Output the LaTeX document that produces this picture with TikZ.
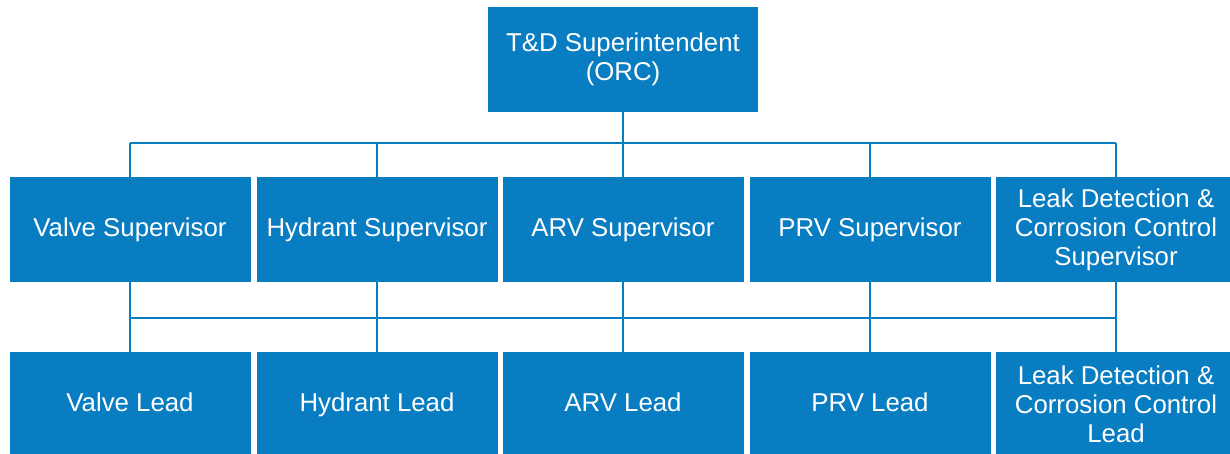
\documentclass[tikz,border=0pt]{standalone}
\usepackage{fontspec}
\setmainfont{Liberation Sans}
\definecolor{orgblue}{RGB}{9,125,193}
\begin{document}
\begin{tikzpicture}[x=1pt,y=-1pt,
  box/.style={fill=orgblue, draw=none, text=white, align=center,
    minimum width=241pt, minimum height=105pt, inner sep=0pt,
    font=\fontsize{25.8}{29}\selectfont},
  oneline/.style={text height=18.5pt, text depth=5.5pt},
  conn/.style={draw=orgblue, line width=2pt}]
\useasboundingbox (0,0) rectangle (1230,453);
\clip (0,0) rectangle (1230,453);

% head of the division
\node[box, minimum width=270pt] (top) at (623,59.5) {T\&D Superintendent\\(ORC)};

% supervisors
\node[box, oneline] (s1) at (130,229.5) {Valve Supervisor};
\node[box, oneline] (s2) at (377,229.5) {Hydrant Supervisor};
\node[box, oneline] (s3) at (623,229.5) {ARV Supervisor};
\node[box, oneline] (s4) at (870,229.5) {PRV Supervisor};
\node[box] (s5) at (1116,229.5) {Leak Detection \&\\Corrosion Control\\Supervisor};

% leads
\node[box, oneline] (l1) at (130,404.5) {Valve Lead};
\node[box, oneline] (l2) at (377,404.5) {Hydrant Lead};
\node[box, oneline] (l3) at (623,404.5) {ARV Lead};
\node[box, oneline] (l4) at (870,404.5) {PRV Lead};
\node[box] (l5) at (1116,404.5) {Leak Detection \&\\Corrosion Control\\Lead};

% bus lines
\coordinate (busA) at (0,143);
\coordinate (busB) at (0,318);

\draw[conn] (top.south) -- (top.south |- busA);
\draw[conn] (s1.north |- busA) -- (s5.north |- busA);
\draw[conn] (s1.south |- busB) -- (s5.south |- busB);
\foreach \i in {1,...,5}{
  \draw[conn] (s\i.north |- busA) -- (s\i.north);
  \draw[conn] (s\i.south) -- (l\i.north);
}
\end{tikzpicture}
\end{document}
